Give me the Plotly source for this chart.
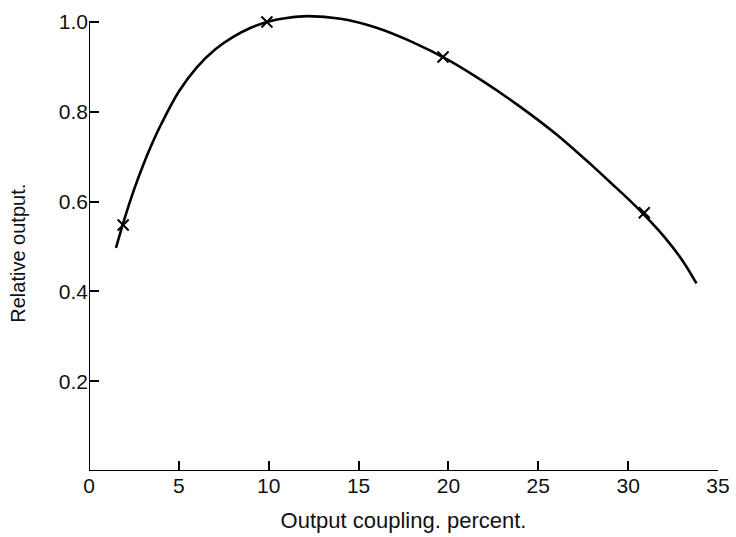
import plotly.graph_objects as go

# Smooth curve
curve_x = [1.5, 2.0, 2.5, 3.0, 3.5, 4.0, 5.0, 6.0, 7.0, 8.0, 9.0, 10.0, 11.0, 12.2, 14.0, 16.0, 18.0,
           20.0, 22.0, 24.0, 26.0, 28.0, 29.0, 30.0, 31.0, 32.0, 33.0, 33.8]
curve_y = [0.497, 0.565, 0.626, 0.680, 0.728, 0.771, 0.845, 0.899, 0.938, 0.966, 0.987, 1.001, 1.009, 1.013, 1.007, 0.987, 0.955,
           0.915, 0.866, 0.811, 0.750, 0.680, 0.643, 0.606, 0.566, 0.522, 0.470, 0.418]

# Measured points (x marks)
pts_x = [1.9, 9.9, 19.7, 30.9]
pts_y = [0.548, 1.000, 0.922, 0.575]

x_ticks = [0, 5, 10, 15, 20, 25, 30, 35]
y_ticks = [0.2, 0.4, 0.6, 0.8, 1.0]
y_ticktext = ["0.2", "0.4", "0.6", "0.8", "1.0"]

FONT = "Liberation Sans"

fig = go.Figure()
fig.add_trace(go.Scatter(x=curve_x, y=curve_y, mode="lines",
                         line=dict(color="black", width=2.6, shape="spline", smoothing=1.0),
                         hoverinfo="skip", showlegend=False))
fig.add_trace(go.Scatter(x=pts_x, y=pts_y, mode="markers",
                         marker=dict(symbol="x-thin-open", size=11, color="black",
                                     line=dict(color="black", width=2)),
                         showlegend=False, cliponaxis=False))

# axis lines
fig.add_shape(type="line", xref="x", yref="y", x0=0, x1=35, y0=0, y1=0,
              line=dict(color="black", width=2))
fig.add_shape(type="line", xref="x", yref="y", x0=0, x1=0, y0=0, y1=1.0,
              line=dict(color="black", width=2))

# y-axis title as annotation (positioned like the original)
fig.add_annotation(text="Relative output.", textangle=-90, showarrow=False,
                   xref="paper", yref="y", x=-0.113, y=0.486,
                   xanchor="center", yanchor="middle",
                   font=dict(family=FONT, size=20, color="#111"))

fig.update_layout(
    width=736, height=537,
    margin=dict(l=89, r=18, t=4, b=66),
    paper_bgcolor="white", plot_bgcolor="white",
    font=dict(family=FONT, size=21, color="#111"),
    xaxis=dict(range=[0, 35], tickmode="array", tickvals=x_ticks,
               ticktext=[str(v) for v in x_ticks],
               ticks="inside", ticklen=10, tickwidth=1.5, tickcolor="black",
               showline=False, showgrid=False, zeroline=False,
               title=dict(text="Output coupling. percent.", standoff=16,
                          font=dict(family=FONT, size=22))),
    yaxis=dict(range=[0, 1.04], tickmode="array", tickvals=y_ticks, ticktext=y_ticktext,
               ticks="inside", ticklen=10, tickwidth=1.5, tickcolor="black",
               ticklabelstandoff=0,
               showline=False, showgrid=False, zeroline=False),
)

fig.write_html("out.html")
